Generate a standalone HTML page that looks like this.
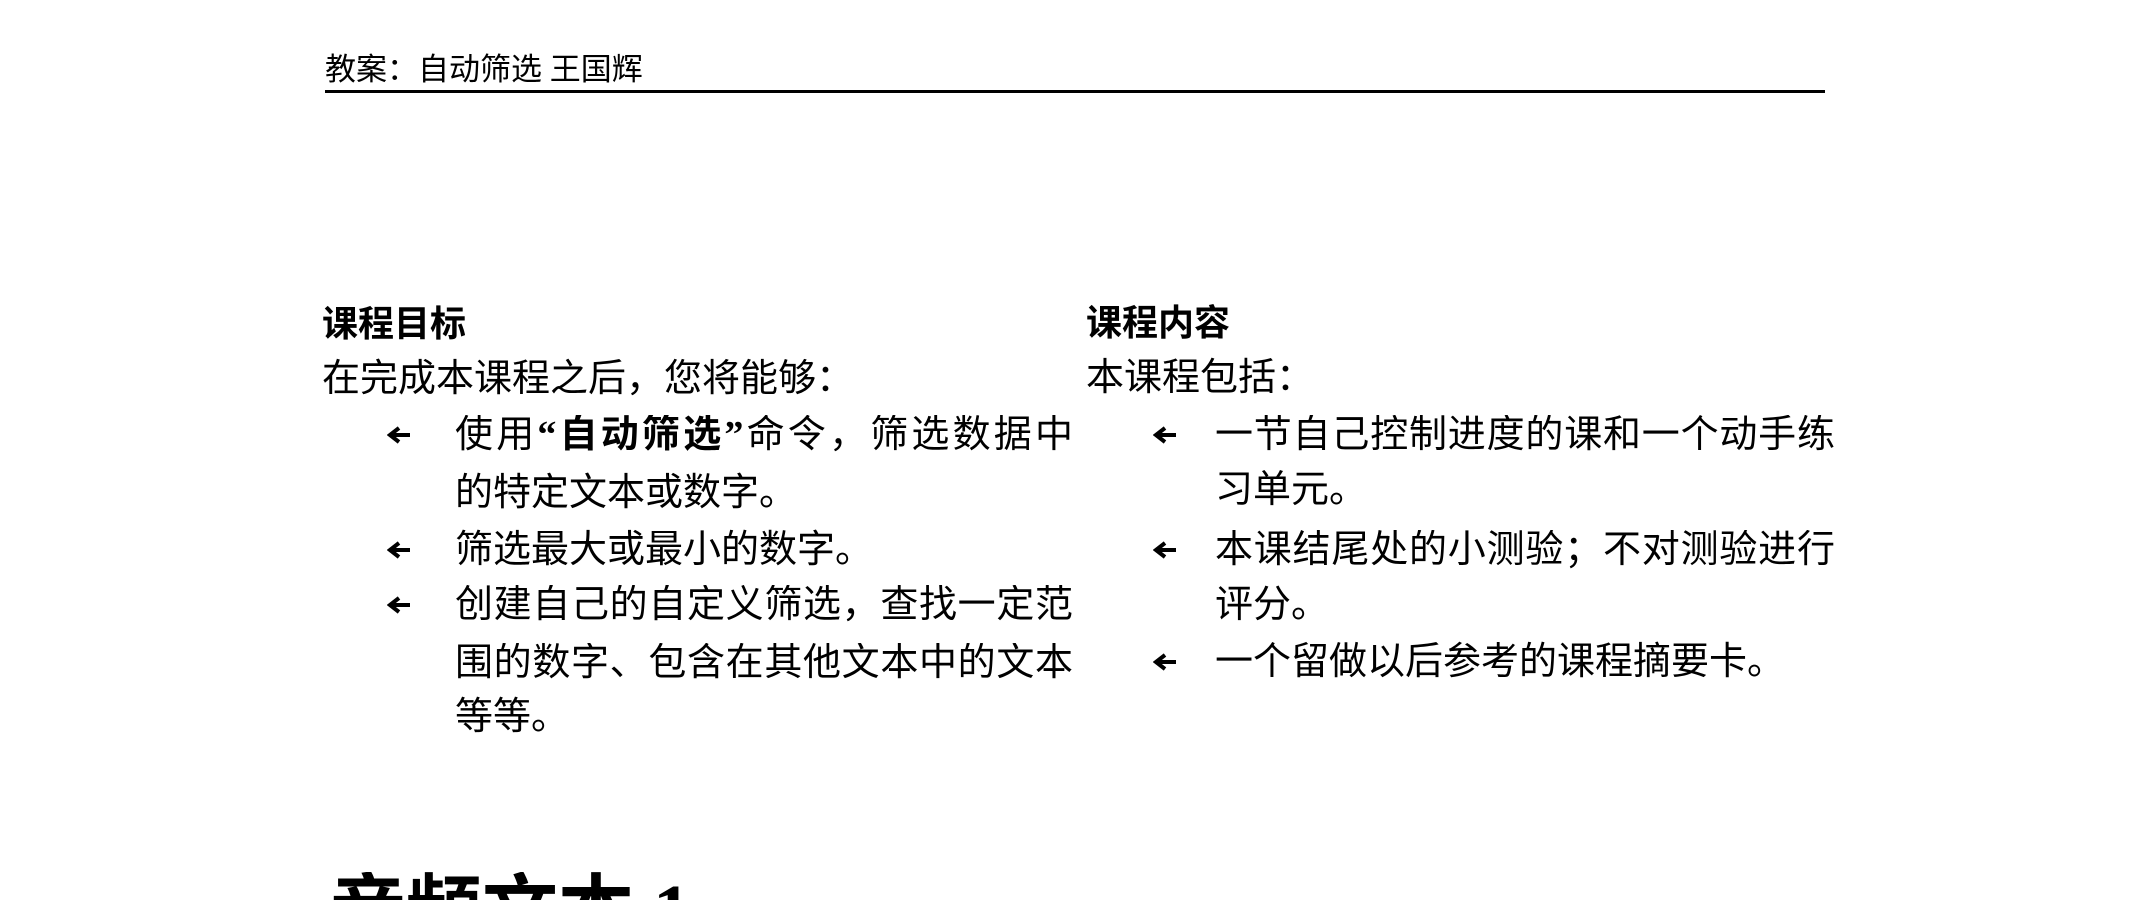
<!DOCTYPE html>
<html style="margin:0;width:2149px;height:900px;overflow:hidden"><head><meta charset="utf-8">
<style>
body{margin:0;width:2149px;height:900px;background:#fff;overflow:hidden;position:relative;font-family:"Liberation Serif","Noto Sans CJK SC",sans-serif;color:#000}
.t{position:absolute;white-space:nowrap;line-height:40px;height:40px;font-size:38px}
.j{text-align:justify;text-align-last:justify;white-space:normal;overflow:hidden}
.h{font-weight:bold;font-size:36px}
svg.a{position:absolute;width:24px;height:18px}
b{font-weight:bold}
</style></head><body>
<div class="t" style="left:325px;top:50px;font-size:31px;">教案：自动筛选 王国辉</div>
<div style="position:absolute;left:325px;top:90px;width:1500px;height:3px;background:#000"></div>

<div class="t h" style="left:322px;top:304px;">课程目标</div>
<div class="t" style="left:322px;top:359px;">在完成本课程之后，您将能够：</div>
<div class="t j" style="left:455px;top:415px;width:618px;">使用<b>“自动筛选”</b>命令，筛选数据中</div>
<div class="t" style="left:455px;top:473px;">的特定文本或数字。</div>
<div class="t" style="left:455px;top:530px;">筛选最大或最小的数字。</div>
<div class="t j" style="left:455px;top:585px;width:618px;">创建自己的自定义筛选，查找一定范</div>
<div class="t j" style="left:455px;top:643px;width:618px;">围的数字、包含在其他文本中的文本</div>
<div class="t" style="left:455px;top:697px;">等等。</div>

<svg class="a" style="left:387px;top:426px" viewBox="0 0 24 18"><path d="M23 9H6M12 2L3 9l9 7" stroke="#000" stroke-width="4" fill="none"/></svg>
<svg class="a" style="left:387px;top:541px" viewBox="0 0 24 18"><path d="M23 9H6M12 2L3 9l9 7" stroke="#000" stroke-width="4" fill="none"/></svg>
<svg class="a" style="left:387px;top:596px" viewBox="0 0 24 18"><path d="M23 9H6M12 2L3 9l9 7" stroke="#000" stroke-width="4" fill="none"/></svg>

<div class="t h" style="left:1086px;top:303px;">课程内容</div>
<div class="t" style="left:1086px;top:358px;">本课程包括：</div>
<div class="t j" style="left:1215px;top:415px;width:620px;">一节自己控制进度的课和一个动手练</div>
<div class="t" style="left:1215px;top:470px;">习单元。</div>
<div class="t j" style="left:1215px;top:530px;width:620px;">本课结尾处的小测验；不对测验进行</div>
<div class="t" style="left:1215px;top:585px;">评分。</div>
<div class="t" style="left:1215px;top:642px;">一个留做以后参考的课程摘要卡。</div>

<svg class="a" style="left:1153px;top:426px" viewBox="0 0 24 18"><path d="M23 9H6M12 2L3 9l9 7" stroke="#000" stroke-width="4" fill="none"/></svg>
<svg class="a" style="left:1153px;top:541px" viewBox="0 0 24 18"><path d="M23 9H6M12 2L3 9l9 7" stroke="#000" stroke-width="4" fill="none"/></svg>
<svg class="a" style="left:1153px;top:653px" viewBox="0 0 24 18"><path d="M23 9H6M12 2L3 9l9 7" stroke="#000" stroke-width="4" fill="none"/></svg>

<div class="t" style="left:330px;top:872px;font-size:76px;line-height:80px;height:28px;overflow:hidden;font-weight:bold;">音频文本 1</div>
</body></html>
